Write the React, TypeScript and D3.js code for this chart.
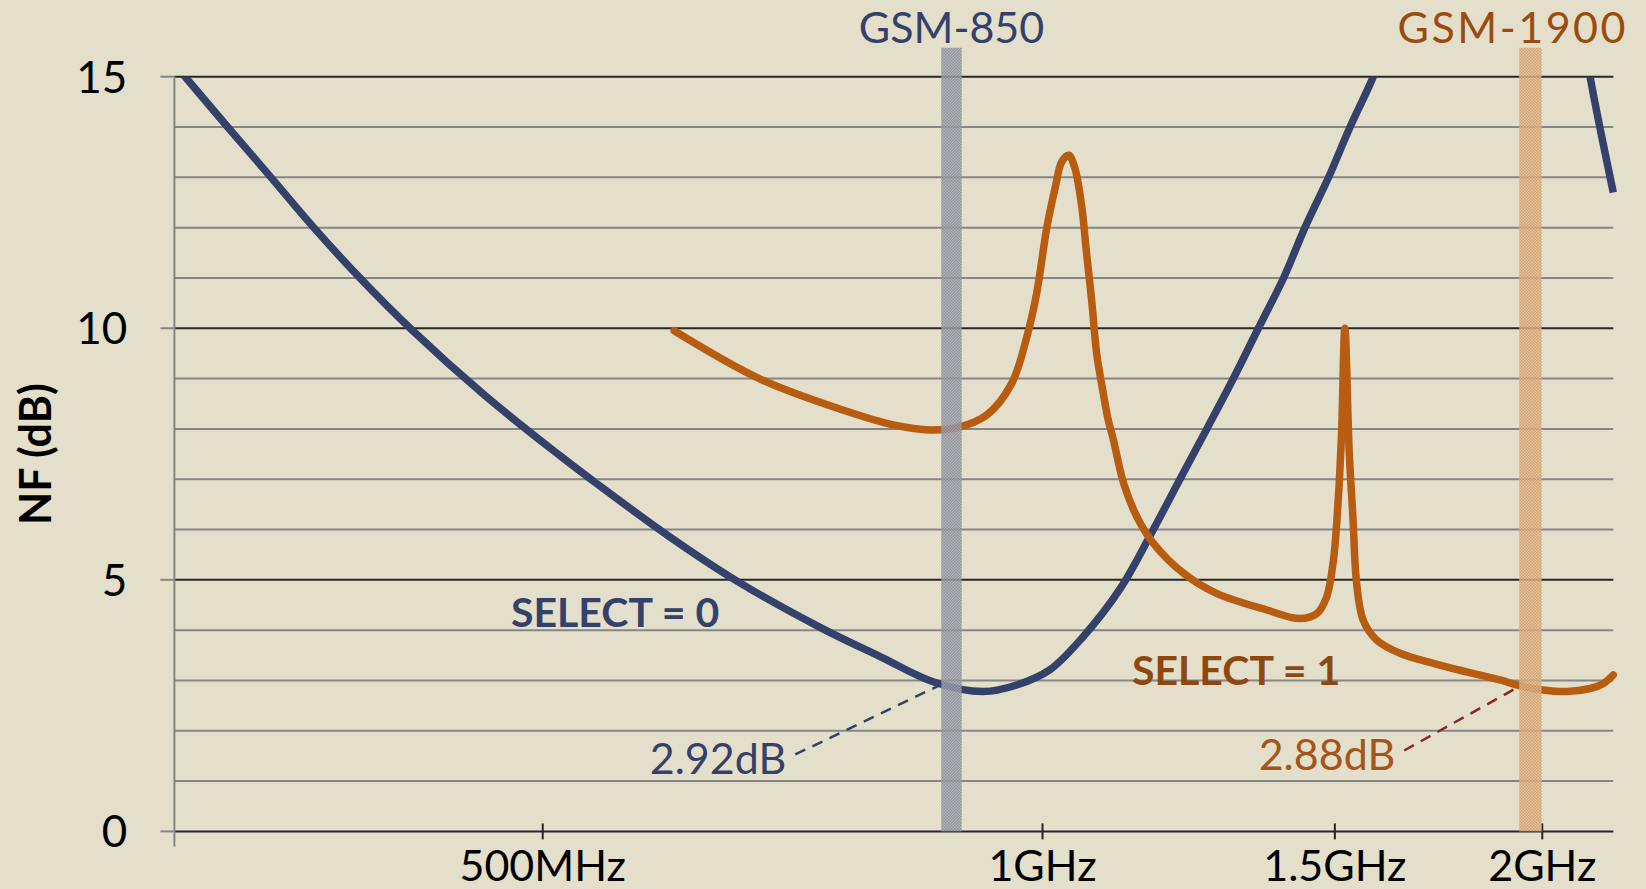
import { useMemo } from "react";
import * as d3 from "d3";

const WIDTH = 1646;
const HEIGHT = 889;
const MARGIN = { top: 76.7, right: 32.7, bottom: 57.6, left: 174.4 };

const BG = "#e3dfca";
const NAVY = "#34416b";
const ORANGE = "#b85c12";
const BROWN = "#8f4710";

// x axis: frequency in MHz (log scale)
const freqDomain = [300, 2207];
const xTicks = [500, 1000, 1500, 2000];
const xTickLabels = ["500MHz", "1GHz", "1.5GHz", "2GHz"];

// y axis: NF in dB
const nfDomain = [0, 15];
const yTicks = [0, 5, 10, 15];
const yGrid = d3.range(0, 16);

// SELECT = 0 (values above 15 dB are clipped off the plot)
const select0Freq = [
  300, 323, 343, 364, 388, 416, 462, 512, 537, 596, 655, 735, 800, 860, 921, 965, 1010,
  1058, 1114, 1164, 1210, 1256, 1303, 1349, 1397, 1439, 1487, 1532, 1582,
  1650, 1760, 1870, 1980, 2070, 2137, 2207,
];
const select0NF = [
  15.25, 14, 13, 12, 11, 10, 8.65, 7.47, 6.95, 5.86, 4.97, 4.05, 3.46, 2.97, 2.78, 2.91, 3.21,
  3.87, 4.83, 5.95, 7.0, 8.0, 9.0, 10.0, 11.0, 12.0, 13.0, 14.0, 15.0,
  16.6, 18.5, 19.5, 19.4, 17.8, 15.0, 12.7,
];

// SELECT = 1
const select1Freq = [
  600, 676, 759, 813, 856, 892, 926, 958, 978, 992, 1006, 1018, 1027, 1037, 1046,
  1056, 1063, 1071, 1078, 1088, 1095, 1103, 1119, 1140, 1166, 1216, 1273, 1365,
  1429, 1463, 1483, 1497, 1507, 1514, 1521, 1530, 1538, 1546, 1560, 1590, 1642,
  1720, 1801, 1886, 1937, 2003, 2069, 2137, 2177, 2207,
];
const select1NF = [
  9.95, 8.99, 8.37, 8.08, 7.98, 8.04, 8.28, 8.9, 9.8, 10.7, 12.0, 12.81, 13.31, 13.44, 13.18,
  12.41, 11.49, 10.49, 9.5, 8.7, 8.2, 7.8, 6.92, 6.25, 5.73, 5.13, 4.73, 4.4,
  4.23, 4.33, 4.66, 5.39, 6.59, 7.91, 10.0, 7.58, 6.25, 4.93, 4.2, 3.8, 3.54,
  3.34, 3.17, 3.01, 2.9, 2.81, 2.78, 2.84, 2.94, 3.11,
];

// GSM bands (MHz)
const bandNames = ["GSM-850", "GSM-1900"];
const bandLow = [869, 1937];
const bandHigh = [894, 1998];

// NF callouts
const calloutLabels = ["2.92dB", "2.88dB"];
const calloutFreq = [869, 1937];
const calloutNF = [2.92, 2.88];

export default function App() {
  const xScale = useMemo(
    () => d3.scaleLog().domain(freqDomain).range([MARGIN.left, WIDTH - MARGIN.right]),
    []
  );
  const yScale = useMemo(
    () => d3.scaleLinear().domain(nfDomain).range([HEIGHT - MARGIN.bottom, MARGIN.top]),
    []
  );

  const line = d3
    .line<[number, number]>()
    .x((d) => xScale(d[0]))
    .y((d) => yScale(d[1]))
    .curve(d3.curveCatmullRom.alpha(0.5));

  const path0 = line(select0Freq.map((f, i) => [f, select0NF[i]]));
  const path1 = line(select1Freq.map((f, i) => [f, select1NF[i]]));

  const x0 = xScale(freqDomain[0]);
  const x1 = xScale(freqDomain[1]);
  const yBottom = yScale(0);
  const yTop = yScale(15);

  const font = "Lato, 'Open Sans', sans-serif";

  return (
    <svg
      width={WIDTH}
      height={HEIGHT}
      style={{ position: "absolute", left: 0, top: 0, display: "block" }}
    >
      <defs>
        <clipPath id="plot">
          <rect x={x0} y={yTop} width={x1 - x0 + 4} height={yBottom - yTop + 10} />
        </clipPath>
        <pattern id="band0" width={3} height={3} patternUnits="userSpaceOnUse">
          <rect width={3} height={3} fill="#abadb6" />
          <rect width={1.5} height={1.5} fill="#7f8496" />
          <rect x={1.5} y={1.5} width={1.5} height={1.5} fill="#7f8496" />
        </pattern>
        <pattern id="band1" width={3} height={3} patternUnits="userSpaceOnUse">
          <rect width={3} height={3} fill="#e4c29c" />
          <rect width={1.5} height={1.5} fill="#cf9560" />
          <rect x={1.5} y={1.5} width={1.5} height={1.5} fill="#cf9560" />
        </pattern>
      </defs>

      <rect width={WIDTH} height={HEIGHT} fill={BG} />

      {/* grid */}
      {yGrid.map((v) => (
        <line
          key={v}
          x1={x0}
          x2={x1}
          y1={yScale(v)}
          y2={yScale(v)}
          stroke={v % 5 === 0 ? "#262626" : "#868686"}
          strokeWidth={2}
        />
      ))}

      {/* y axis */}
      <line x1={x0} x2={x0} y1={yTop} y2={yBottom + 15} stroke="#868686" strokeWidth={2} />
      {yTicks.map((v) => (
        <g key={v}>
          <line x1={x0 - 14} x2={x0} y1={yScale(v)} y2={yScale(v)} stroke="#868686" strokeWidth={2} />
          <text
            x={x0 - 47}
            y={yScale(v)}
            dy="0.36em"
            textAnchor="end"
            fontFamily={font}
            fontSize={44}
            fill="#000"
          >
            {v}
          </text>
        </g>
      ))}

      {/* x ticks */}
      {xTicks.map((f, i) => (
        <g key={f}>
          <line
            x1={xScale(f)}
            x2={xScale(f)}
            y1={yBottom - 8}
            y2={yBottom + 8}
            stroke="#262626"
            strokeWidth={2}
          />
          <text
            x={xScale(f)}
            y={yBottom + 50}
            textAnchor="middle"
            fontFamily={font}
            fontSize={43}
            fill="#000"
          >
            {xTickLabels[i]}
          </text>
        </g>
      ))}

      <text
        transform={`translate(${36}, ${(yTop + yBottom) / 2}) rotate(-90)`}
        textAnchor="middle"
        dy="0.36em"
        fontFamily={font}
        fontWeight="bold"
        fontSize={43}
        fill="#000"
      >
        NF (dB)
      </text>

      {/* curves */}
      <g clipPath="url(#plot)">
        <path d={path0 ?? ""} fill="none" stroke={NAVY} strokeWidth={7.5} />
        <path d={path1 ?? ""} fill="none" stroke={ORANGE} strokeWidth={7.5} strokeLinecap="round" strokeLinejoin="round" />
      </g>

      {/* bands */}
      {bandNames.map((name, i) => (
        <g key={name}>
          <rect
            x={xScale(bandLow[i])}
            width={xScale(bandHigh[i]) - xScale(bandLow[i])}
            y={yTop - 29}
            height={yBottom - yTop + 29}
            fill={`url(#band${i})`}
            opacity={0.85}
          />
          <text
            x={i === 0 ? (xScale(bandLow[i]) + xScale(bandHigh[i])) / 2 : WIDTH - 18}
            y={43}
            textAnchor={i === 0 ? "middle" : "end"}
            fontFamily={font}
            fontSize={43}
            letterSpacing={i === 0 ? 0 : 2.5}
            fill={i === 0 ? NAVY : "#9a4c10"}
          >
            {name}
          </text>
        </g>
      ))}

      {/* callouts */}
      {calloutLabels.map((label, i) => {
        const px = xScale(calloutFreq[i]);
        const py = yScale(calloutNF[i]);
        const dx = i === 0 ? -146 : -115;
        const dy = i === 0 ? 70 : 64;
        return (
          <g key={label}>
            <line
              x1={px + dx}
              y1={py + dy}
              x2={px}
              y2={py}
              stroke={i === 0 ? NAVY : "#8e2424"}
              strokeWidth={2.5}
              strokeDasharray="11 8"
            />
            <text
              x={px + dx - 9}
              y={py + dy + 20}
              textAnchor="end"
              fontFamily={font}
              fontSize={43}
              fill={i === 0 ? NAVY : "#a3561a"}
            >
              {label}
            </text>
          </g>
        );
      })}

      <text x={511} y={627} fontFamily={font} fontWeight="bold" fontSize={41} fill={NAVY}>
        SELECT = 0
      </text>
      <text x={1132} y={685} fontFamily={font} fontWeight="bold" fontSize={41} fill={BROWN}>
        SELECT = 1
      </text>
    </svg>
  );
}
